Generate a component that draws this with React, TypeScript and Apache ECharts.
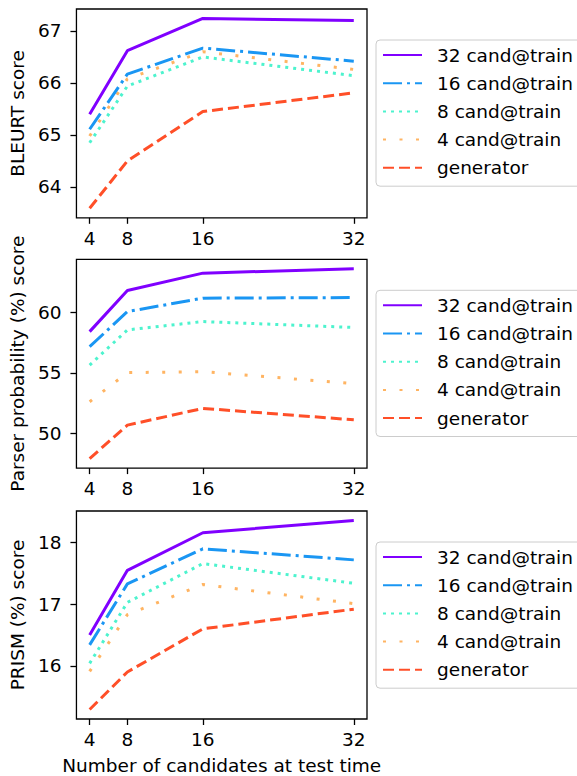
import React, { useEffect, useRef } from "react";
import * as echarts from "echarts";

const candidates = [4, 8, 16, 32];
const seriesNames = ["32 cand@train", "16 cand@train", "8 cand@train", "4 cand@train", "generator"];

// BLEURT score
const bleurt32 = [65.40, 66.62, 67.24, 67.20];
const bleurt16 = [65.11, 66.17, 66.67, 66.42];
const bleurt8 = [64.85, 65.94, 66.50, 66.14];
const bleurt4 = [64.98, 66.08, 66.60, 66.26];
const bleurtGen = [63.59, 64.50, 65.45, 65.81];

// Parser probability (%) score
const parser32 = [58.40, 61.79, 63.22, 63.58];
const parser16 = [57.16, 60.05, 61.16, 61.21];
const parser8 = [55.64, 58.54, 59.23, 58.74];
const parser4 = [52.62, 55.02, 55.10, 54.11];
const parserGen = [47.93, 50.69, 52.07, 51.13];

// PRISM (%) score
const prism32 = [16.50, 17.55, 18.16, 18.36];
const prism16 = [16.34, 17.33, 17.90, 17.72];
const prism8 = [16.04, 17.03, 17.66, 17.34];
const prism4 = [15.91, 16.83, 17.32, 17.01];
const prismGen = [15.29, 15.90, 16.60, 16.92];

const bleurtTicks = [64, 65, 66, 67];
const parserTicks = [50, 55, 60];
const prismTicks = [16, 17, 18];

const yNames = ["BLEURT score", "Parser probability (%) score", "PRISM (%) score"];
const xName = "Number of candidates at test time";

const colors = ["#8000ff", "#1a96f3", "#4df3ce", "#ffb462", "#ff4f28"];
const dashes: (number[] | string)[] = ["solid", [19, 5, 3, 5], [3, 5], [3, 13.5], [11, 5]];

const FONT = "DejaVu Sans";
const FS = 18.5;

export default function App() {
  const ref = useRef<HTMLDivElement>(null);
  useEffect(() => {
    if (!ref.current) return;
    const chart = echarts.init(ref.current, null, { renderer: "svg" });
    const panels = [
      { vals: [bleurt32, bleurt16, bleurt8, bleurt4, bleurtGen], ticks: bleurtTicks },
      { vals: [parser32, parser16, parser8, parser4, parserGen], ticks: parserTicks },
      { vals: [prism32, prism16, prism8, prism4, prismGen], ticks: prismTicks },
    ];
    const tops = [9, 259.3, 511];
    const H = 208.8;
    const gridLeft = 74;
    const gridW = 293;
    const xMin = 4 - 0.05 * 28;
    const xMax = 32 + 0.05 * 28;

    const grids: any[] = [];
    const xAxes: any[] = [];
    const yAxes: any[] = [];
    const series: any[] = [];
    const legends: any[] = [];

    panels.forEach((p, i) => {
      const all = p.vals.flat();
      const lo = Math.min(...all);
      const hi = Math.max(...all);
      const m = (hi - lo) * 0.05;
      grids.push({
        left: gridLeft,
        top: tops[i],
        width: gridW,
        height: H,
        show: true,
        borderColor: "#000",
        borderWidth: 1.3,
        backgroundColor: "transparent",
      });
      xAxes.push({
        type: "value",
        gridIndex: i,
        min: xMin,
        max: xMax,
        splitLine: { show: false },
        axisLine: { show: false },
        axisTick: { show: true, length: 6, customValues: candidates, lineStyle: { color: "#000", width: 1.3 } },
        axisLabel: { customValues: candidates, margin: 11, fontSize: FS, color: "#000", fontFamily: FONT },
        name: i === 2 ? xName : "",
        nameLocation: "middle",
        nameGap: 37,
        nameTextStyle: { fontSize: FS, color: "#000", fontFamily: FONT },
      });
      yAxes.push({
        type: "value",
        gridIndex: i,
        min: lo - m,
        max: hi + m,
        splitLine: { show: false },
        axisLine: { show: false },
        axisTick: { show: true, length: 6, customValues: p.ticks, lineStyle: { color: "#000", width: 1.3 } },
        axisLabel: { customValues: p.ticks, margin: 15, fontSize: FS, color: "#000", fontFamily: FONT },
        name: yNames[i],
        nameLocation: "middle",
        nameRotate: 90,
        nameGap: 48,
        nameTextStyle: { fontSize: FS, color: "#000", fontFamily: FONT },
      });
      p.vals.forEach((vals, k) => {
        series.push({
          type: "line",
          name: seriesNames[k],
          xAxisIndex: i,
          yAxisIndex: i,
          data: candidates.map((c, j) => [c, vals[j]]),
          symbol: "none",
          showSymbol: false,
          itemStyle: { color: colors[k] },
          lineStyle: { color: colors[k], width: 3, type: dashes[k], cap: "butt" },
          z: 10 - k,
        });
      });
      legends.push({
        orient: "vertical",
        left: 376,
        top: tops[i] + 31,
        data: seriesNames,
        itemWidth: 39,
        itemHeight: 14,
        itemGap: 8.2,
        padding: [5, 30, 8.4, 6],
        backgroundColor: "rgba(255,255,255,0.8)",
        borderColor: "#cccccc",
        borderWidth: 1,
        borderRadius: 4,
        selectedMode: false,
        itemStyle: { color: "transparent", borderColor: "transparent", borderWidth: 0, opacity: 0 },
        textStyle: { fontSize: FS, color: "#000", fontFamily: FONT, lineHeight: 20, padding: [0, 0, 0, 10] },
      });
    });

    chart.setOption({
      animation: false,
      backgroundColor: "#fff",
      textStyle: { fontFamily: FONT },
      grid: grids,
      xAxis: xAxes,
      yAxis: yAxes,
      legend: legends,
      series,
    });
    return () => chart.dispose();
  }, []);
  return (
    <div
      ref={ref}
      style={{ position: "absolute", left: 0, top: 0, width: 577, height: 776 }}
    />
  );
}
